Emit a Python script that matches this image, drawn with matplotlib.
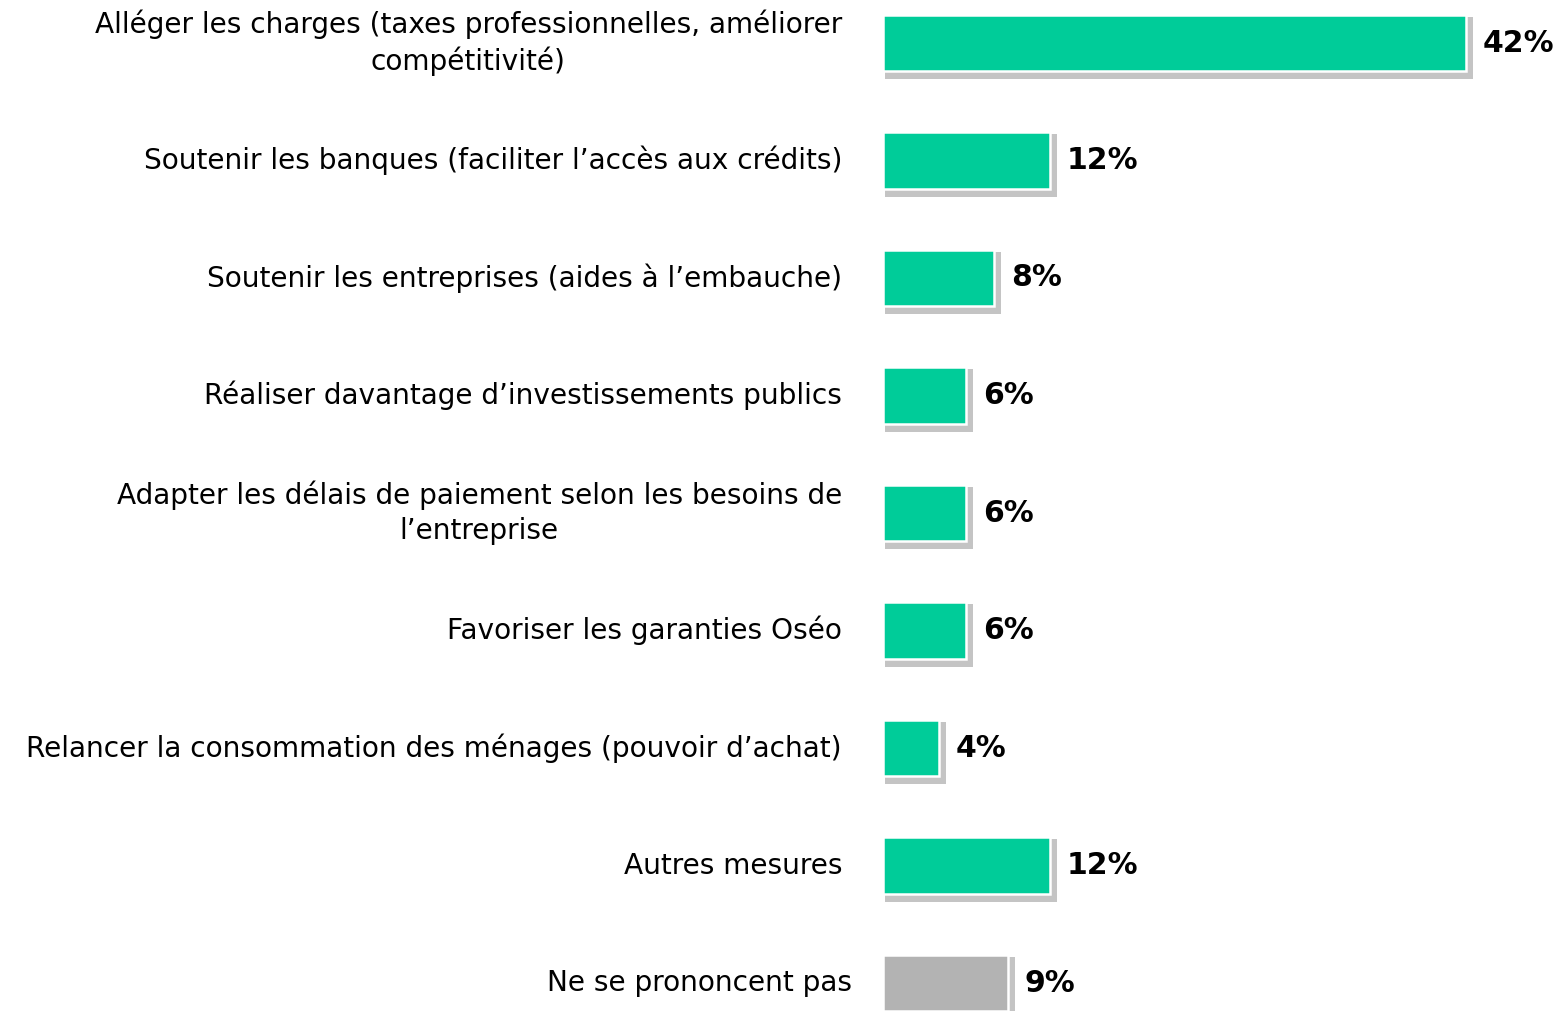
import matplotlib.pyplot as plt
import matplotlib.transforms as mtransforms

categories = [
    "Alléger les charges (taxes professionnelles, améliorer\ncompétitivité)",
    "Soutenir les banques (faciliter l’accès aux crédits)",
    "Soutenir les entreprises (aides à l’embauche)",
    "Réaliser davantage d’investissements publics",
    "Adapter les délais de paiement selon les besoins de\nl’entreprise",
    "Favoriser les garanties Oséo",
    "Relancer la consommation des ménages (pouvoir d’achat)",
    "Autres mesures",
    "Ne se prononcent pas",
]
values = [42, 12, 8, 6, 6, 6, 4, 12, 9]
colors = ["#00CC99"] * 8 + ["#B3B3B3"]

plt.rcParams['font.family'] = ['DejaVu Sans']

fig = plt.figure(figsize=(15.62, 10.11), dpi=100)
ax = fig.add_axes([883 / 1562, 0, 1 - 883 / 1562, 1])

px_x = 1 / 13.88   # data units per pixel along x
px_y = 1 / 117.5   # data units per pixel along y
h = 0.477

ypos = list(range(len(values)))
for y, v, c in zip(ypos, values, colors):
    # drop shadow (slightly larger, shifted down/right)
    ax.barh(y + 5 * px_y, v + 5 * px_x, left=2 * px_x, height=h + 6 * px_y,
            color="#C4C4C4", zorder=1)
    ax.barh(y, v, height=h, color=c, edgecolor="white", linewidth=1.8, zorder=2)
    ax.text(v + 17 * px_x, y, f"{v}%", va="center", ha="left",
            fontsize=21.5, fontweight="bold", color="black")

for i, lab in enumerate(categories):
    off = -31 if i == len(categories) - 1 else -41
    t = mtransforms.offset_copy(ax.transData, fig=fig, x=off, y=0, units='dots')
    ax.text(0, i, lab, transform=t, ha="right", va="center",
            multialignment="center", fontsize=20.2, color="black",
            linespacing=1.3, clip_on=False)

ax.set_xlim(0, (1562 - 883) / 13.88)
ax.set_ylim((1011 - 43) / 117.5, -43 / 117.5)
ax.axis("off")

fig.savefig("out.png", dpi=100)
